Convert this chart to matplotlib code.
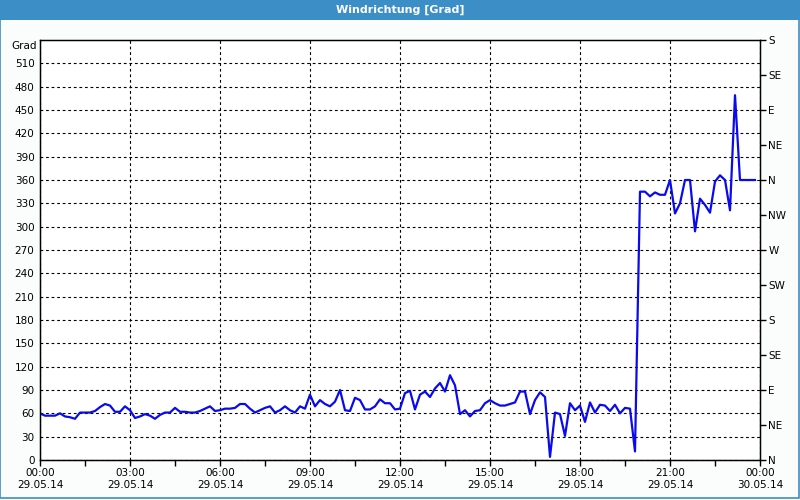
import matplotlib
matplotlib.use("Agg")
import matplotlib.pyplot as plt
from matplotlib.patches import Rectangle

# wind direction every 10 minutes, 29.05.14 00:00 .. 23:50
direction = [
    60, 57, 57, 57, 60, 56, 55, 53, 61, 61, 61, 63,
    68, 72, 70, 62, 62, 69, 64, 54, 56, 59, 57, 53,
    58, 61, 61, 67, 62, 62, 61, 61, 63, 66, 69, 63,
    64, 66, 66, 67, 72, 72, 66, 61, 64, 67, 69, 61,
    64, 69, 64, 61, 69, 66, 84, 69, 77, 72, 69, 75,
    90, 64, 63, 80, 77, 65, 65, 69, 78, 73, 73, 65,
    66, 86, 89, 65, 84, 88, 81, 92, 99, 88, 109, 96,
    59, 64, 56, 63, 64, 73, 77, 73, 70, 70, 72, 74,
    88, 88, 59, 77, 87, 81, 4, 61, 59, 31, 73, 64,
    70, 49, 74, 61, 71, 70, 63, 71, 60, 67, 66, 11,
    345, 345, 339, 344, 341, 341, 360, 317, 330, 360, 360, 294,
    336, 328, 318, 358, 366, 360, 321, 469, 360, 360, 360, 360,
]
hours = [i / 6 for i in range(len(direction))]

x_ticks = [0, 3, 6, 9, 12, 15, 18, 21, 24]
x_labels = ["00:00\n29.05.14", "03:00\n29.05.14", "06:00\n29.05.14",
            "09:00\n29.05.14", "12:00\n29.05.14", "15:00\n29.05.14",
            "18:00\n29.05.14", "21:00\n29.05.14", "00:00\n30.05.14"]
y_ticks = list(range(0, 540, 30))
compass_ticks = list(range(0, 541, 45))
compass_labels = ["N", "NE", "E", "SE", "S", "SW", "W", "NW",
                  "N", "NE", "E", "SE", "S"]

plt.rcParams["font.family"] = "DejaVu Sans"
plt.rcParams["font.size"] = 7.5

fig = plt.figure(figsize=(8, 5), dpi=100)
fig.patch.set_facecolor("#fafdfb")

# window title bar and frame
fig.patches.append(Rectangle((0, 0.96), 1, 0.04, transform=fig.transFigure,
                             facecolor="#3c8fc6", edgecolor="none"))
fig.patches.append(Rectangle((0.0005, 0.004), 0.998, 0.96, transform=fig.transFigure,
                             facecolor="none", edgecolor="#3c8fc6", lw=1.2))
fig.text(0.5, 0.98, "Windrichtung [Grad]", color="white", fontweight="bold",
         ha="center", va="center", fontsize=8)

ax = fig.add_axes([0.05, 0.08, 0.9, 0.84])
ax.set_facecolor("white")
ax.plot(hours, direction, color="#0a0aee", lw=1.6)

ax.set_xlim(0, 24)
ax.set_ylim(0, 540)
ax.set_xticks(x_ticks)
ax.set_xticklabels(x_labels)
ax.set_xticks([1.5 + 3 * i for i in range(8)], minor=True)
ax.set_yticks(y_ticks)
ax.tick_params(axis="x", which="both", direction="out", length=4, width=1, pad=2)
ax.tick_params(axis="y", length=0, pad=4)
ax.grid(True, color="black", linestyle=(0, (2.5, 2.5)), lw=0.8)
for s in ax.spines.values():
    s.set_color("black")
    s.set_linewidth(1)
ax.text(-0.004, 0.985, "Grad", transform=ax.transAxes, ha="right", va="center")

ax2 = ax.twinx()
ax2.set_ylim(0, 540)
ax2.set_yticks(compass_ticks)
ax2.set_yticklabels(compass_labels)
ax2.tick_params(axis="y", direction="out", length=4, width=1, pad=2)

fig.savefig("out.png", dpi=100, facecolor=fig.get_facecolor())
